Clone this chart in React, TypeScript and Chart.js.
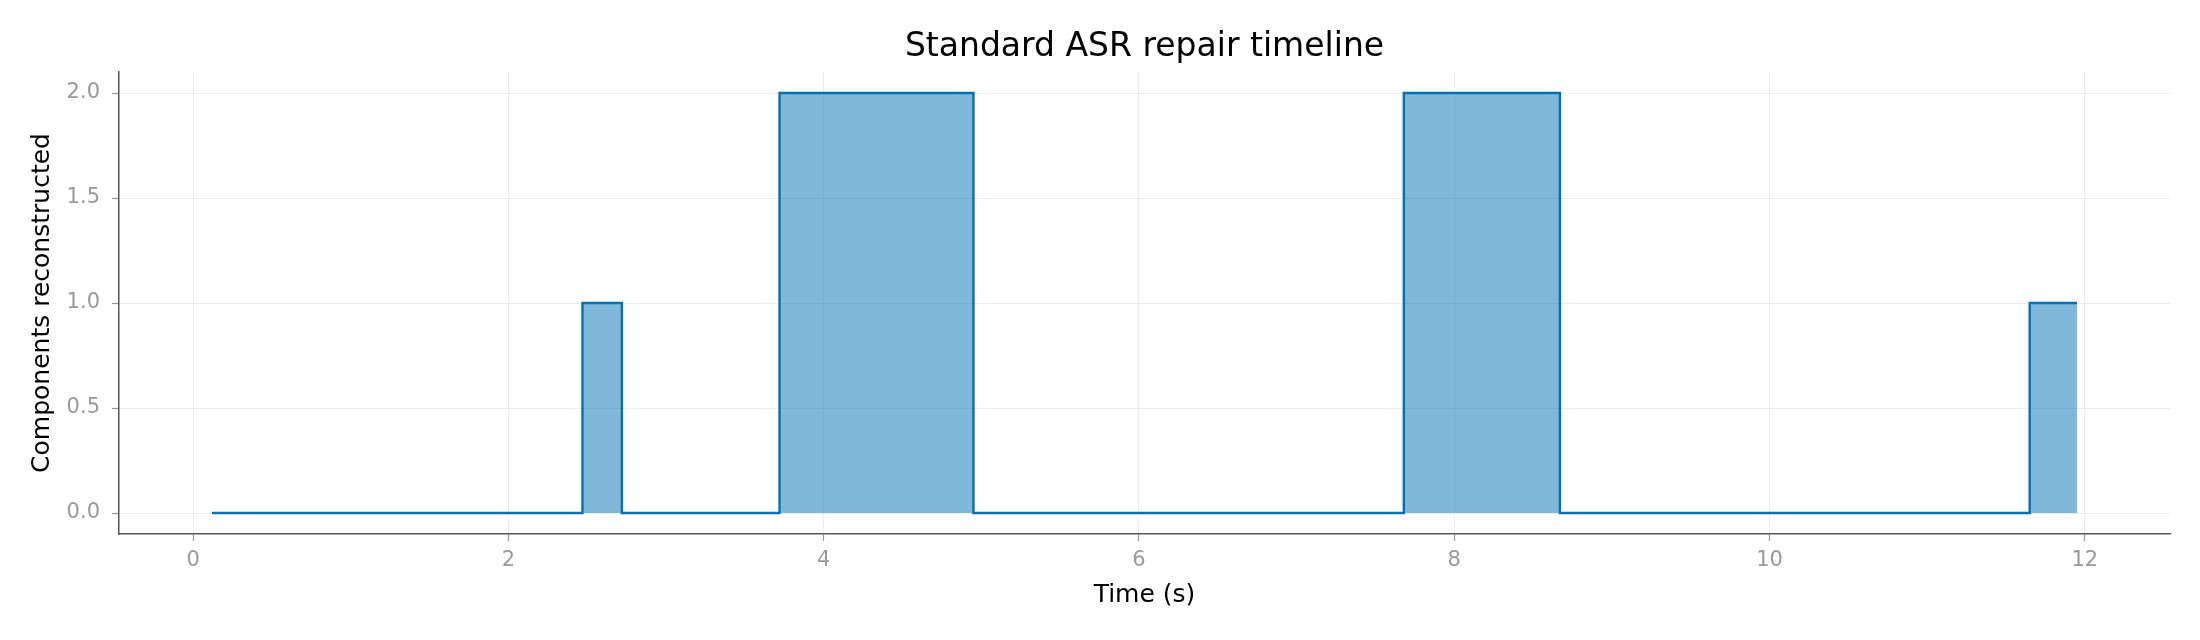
import React, { useEffect, useRef } from "react";
import { Chart, registerables } from "chart.js";

Chart.register(...registerables);

// step edges of the repair timeline (value holds from previous edge up to this time)
const stepTimes = [0.12, 2.47, 2.72, 3.72, 4.95, 7.68, 8.67, 11.65, 11.95];
const stepValues = [0, 1, 0, 2, 0, 2, 0, 1, 1];

const xTickValues = [0, 2, 4, 6, 8, 10, 12];
const yTickValues = [0, 0.5, 1.0, 1.5, 2.0];

const chartTitle = "Standard ASR repair timeline";

const FONT = "'DejaVu Sans', 'Liberation Sans', sans-serif";

// title centred over the plot area, like matplotlib does it
const titlePlugin = {
  id: "plotTitle",
  afterDraw(chart: Chart) {
    const { ctx, chartArea } = chart;
    ctx.save();
    ctx.font = `33px ${FONT}`;
    ctx.fillStyle = "#000";
    ctx.textAlign = "center";
    ctx.textBaseline = "alphabetic";
    ctx.fillText(chartTitle, (chartArea.left + chartArea.right) / 2, 56);
    ctx.restore();
  },
};

const App: React.FC = () => {
  const canvasRef = useRef<HTMLCanvasElement | null>(null);
  const chartRef = useRef<Chart | null>(null);

  useEffect(() => {
    if (!canvasRef.current) return;
    if (chartRef.current) chartRef.current.destroy();

    const points = stepTimes.map((t, i) => ({ x: t, y: stepValues[i] }));

    chartRef.current = new Chart(canvasRef.current, {
      type: "line",
      data: {
        datasets: [
          {
            label: "Components reconstructed",
            data: points,
            stepped: "before",
            borderColor: "#0072B2",
            borderWidth: 2.4,
            backgroundColor: "rgba(0, 114, 178, 0.5)",
            fill: "origin",
            pointRadius: 0,
            pointHoverRadius: 0,
          },
        ],
      },
      plugins: [titlePlugin],
      options: {
        animation: false,
        responsive: true,
        maintainAspectRatio: false,
        devicePixelRatio: 1,
        layout: { padding: { left: 0, right: 30, top: 72, bottom: 0 } },
        plugins: {
          legend: { display: false },
          tooltip: { enabled: false },
          title: { display: false },
        },
        scales: {
          x: {
            type: "linear",
            min: -0.47,
            max: 12.54,
            afterBuildTicks: (scale) => {
              scale.ticks = xTickValues.map((v) => ({ value: v }));
            },
            afterFit: (scale) => {
              scale.height = 106;
            },
            ticks: {
              color: "#999",
              font: { family: FONT, size: 21 },
              padding: 7,
              maxRotation: 0,
              callback: (v) => String(v),
            },
            grid: {
              color: "#ececec",
              lineWidth: 1,
              tickColor: "#999",
              tickLength: 7,
              tickWidth: 1.2,
            },
            border: { display: true, color: "#555", width: 1.5 },
            title: {
              display: true,
              text: "Time (s)",
              color: "#000",
              font: { family: FONT, size: 25 },
              padding: { top: 0, bottom: 30 },
            },
          },
          y: {
            type: "linear",
            min: -0.1,
            max: 2.1,
            afterBuildTicks: (scale) => {
              scale.ticks = yTickValues.map((v) => ({ value: v }));
            },
            afterFit: (scale) => {
              scale.width = 119;
            },
            ticks: {
              color: "#999",
              font: { family: FONT, size: 21 },
              padding: 12,
              callback: (v) => Number(v).toFixed(1),
            },
            grid: {
              color: "#ececec",
              lineWidth: 1,
              tickColor: "#999",
              tickLength: 7,
              tickWidth: 1.2,
            },
            border: { display: true, color: "#555", width: 1.5 },
            title: {
              display: true,
              text: "Components reconstructed",
              color: "#000",
              font: { family: FONT, size: 25 },
              padding: { top: 27, bottom: 0 },
            },
          },
        },
      },
    });

    return () => {
      if (chartRef.current) {
        chartRef.current.destroy();
        chartRef.current = null;
      }
    };
  }, []);

  return (
    <div
      style={{
        position: "absolute",
        left: 0,
        top: 0,
        width: "2200px",
        height: "640px",
        background: "#fff",
      }}
    >
      <canvas ref={canvasRef} />
    </div>
  );
};

export default App;
